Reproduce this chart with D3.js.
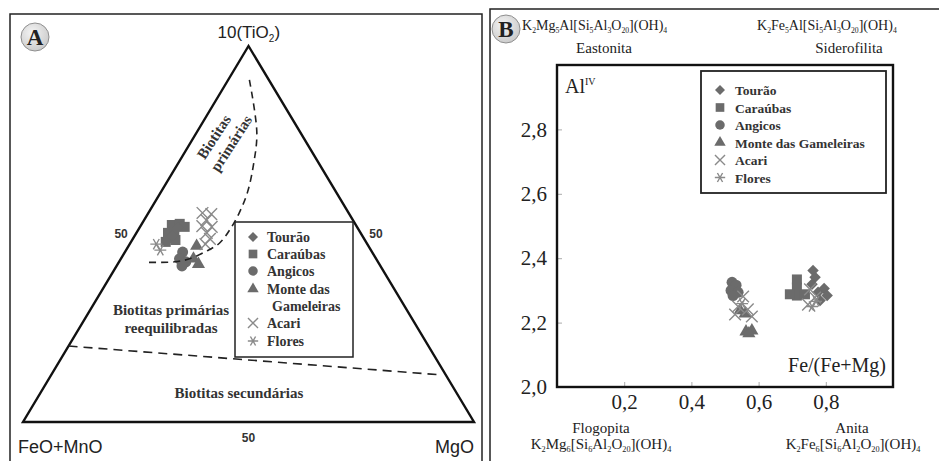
<!DOCTYPE html>
<html>
<head>
<meta charset="utf-8">
<script src="https://cdn.jsdelivr.net/npm/d3@7"></script>
<style>
body { margin: 0; background: #fff; }
svg { display: block; }
</style>
</head>
<body>
<svg id="chart" width="939" height="461"></svg>
<script>
// series names, same order in both panels
const seriesNames = ['Tourão', 'Caraúbas', 'Angicos', 'Monte das Gameleiras', 'Acari', 'Flores'];

// Panel A: ternary compositions [10*TiO2, FeO+MnO, MgO]
const terTourao = [[51.6, 39.9, 8.5], [49.5, 42.2, 8.3]];
const terCaraubas = [[52.4, 40.8, 6.8], [52.7, 38.9, 8.4], [51.9, 38.2, 9.9], [50.3, 42.7, 7.0],
  [50.5, 41.2, 8.3], [48.9, 43.1, 8.0], [48.4, 42.0, 9.6], [47.9, 44.4, 7.7]];
const terAngicos = [[45.2, 42.0, 12.8], [43.4, 43.6, 13.0], [42.6, 42.6, 14.8], [41.5, 44.0, 14.5]];
const terMonte = [[46.8, 38.1, 15.1], [43.4, 40.5, 16.1], [42.0, 40.1, 17.9]];
const terAcari = [[55.6, 32.4, 12.0], [55.3, 30.6, 14.1], [53.7, 32.5, 13.8], [52.1, 34.2, 13.7],
  [51.9, 32.2, 15.9], [50.3, 34.1, 15.6], [48.7, 34.2, 17.1], [47.3, 35.9, 16.8]];
const terFlores = [[47.3, 46.8, 5.9], [45.7, 46.7, 7.6]];

// Panel A field boundaries (ternary compositions)
const primaryBoundary = [[91.0, 4.3, 4.7], [76.9, 9.7, 13.4], [68.4, 14.7, 16.9], [61.2, 19.6, 19.2],
  [55.9, 24.0, 20.1], [51.3, 28.4, 20.3], [47.6, 32.6, 19.8], [45.5, 36.5, 18.0],
  [43.4, 41.4, 15.2], [42.6, 45.1, 12.3], [42.6, 51.6, 6.1]];
const secondaryBoundary = [[20.2, 79.8, 0], [12.5, 0.8, 86.7]];

// Panel B: [Fe/(Fe+Mg), Al IV]
const alTourao = [[0.762, 2.362], [0.768, 2.341], [0.759, 2.319], [0.795, 2.306],
  [0.777, 2.294], [0.804, 2.284], [0.783, 2.269]];
const alCaraubas = [[0.714, 2.334], [0.714, 2.309], [0.714, 2.284], [0.738, 2.288], [0.693, 2.288]];
const alAngicos = [[0.521, 2.325], [0.533, 2.316], [0.518, 2.300], [0.539, 2.294], [0.524, 2.284]];
const alMonte = [[0.545, 2.238], [0.560, 2.228], [0.5625, 2.172], [0.580, 2.175], [0.571, 2.166]];
const alAcari = [[0.554, 2.281], [0.539, 2.250], [0.568, 2.241], [0.530, 2.225], [0.580, 2.219],
  [0.753, 2.303], [0.768, 2.278], [0.747, 2.256]];
const alFlores = [[0.551, 2.259], [0.759, 2.250], [0.771, 2.266]];

const xTicks = [0.2, 0.4, 0.6, 0.8];
const yTicks = [2.0, 2.2, 2.4, 2.6, 2.8];

const svg = d3.select('#chart');
const serif = 'Liberation Serif, Times New Roman, serif';
const sans = 'Liberation Sans, Arial, sans-serif';
const markGray = '#6b6b6b';
const lineGray = '#8a8a8a';

// symbol shapes per series (diamond = square turned 45 degrees)
const shapes = [
  { type: d3.symbolSquare, size: 66, fill: true, rot: 45 },
  { type: d3.symbolSquare, size: 100, fill: true },
  { type: d3.symbolCircle, size: 95, fill: true },
  { type: d3.symbolTriangle, size: 75, fill: true },
  { type: d3.symbolTimes, size: 90, fill: false, rot: 0 },
  { type: d3.symbolAsterisk, size: 100, fill: false, rot: 90 }
];

function drawMarks(g, pts, i, pos, scale) {
  const s = shapes[i];
  const sym = d3.symbol().type(s.type).size(s.size * (scale || 1));
  g.selectAll(null)
    .data(pts)
    .enter().append('path')
    .attr('d', sym)
    .attr('transform', d => {
      const p = pos(d);
      return `translate(${p[0]},${p[1]}) rotate(${s.rot || 0})`;
    })
    .attr('fill', s.fill ? markGray : 'none')
    .attr('stroke', s.fill ? 'none' : lineGray)
    .attr('stroke-width', 1.4);
}

function drawLegend(g, x0, rows, textX) {
  rows.forEach(r => {
    if (r.sym != null) {
      drawMarks(g, [[0, 0]], r.sym, () => [x0, r.y], 0.75);
    }
    g.append('text')
      .attr('x', r.x || textX)
      .attr('y', r.y + 5)
      .attr('font-family', serif)
      .attr('font-weight', 'bold')
      .attr('fill', '#333')
      .attr('font-size', r.fs)
      .text(r.label);
  });
}

// formula with subscripts written as _n
function addFormula(g, str, x, y, anchor, fs) {
  const t = g.append('text')
    .attr('x', x).attr('y', y)
    .attr('text-anchor', anchor)
    .attr('font-family', serif)
    .attr('font-size', fs)
    .attr('fill', '#222');
  let shifted = false;
  str.split(/(_\d+)/).filter(s => s).forEach(s => {
    if (s[0] === '_') {
      t.append('tspan').attr('dy', 3).attr('font-size', fs * 0.55).text(s.slice(1));
      shifted = true;
    } else {
      t.append('tspan').attr('dy', shifted ? -3 : 0).text(s);
      shifted = false;
    }
  });
}

function badge(x, y, letter) {
  const grad = svg.append('defs').append('radialGradient')
    .attr('id', 'g' + letter).attr('cx', '40%').attr('cy', '35%').attr('r', '70%');
  grad.append('stop').attr('offset', '0%').attr('stop-color', '#f4f4f4');
  grad.append('stop').attr('offset', '100%').attr('stop-color', '#c9c9c9');
  svg.append('circle').attr('cx', x).attr('cy', y).attr('r', 14)
    .attr('fill', `url(#g${letter})`).attr('stroke', '#8f8f8f').attr('stroke-width', 1);
  svg.append('text').attr('x', x).attr('y', y + 8)
    .attr('text-anchor', 'middle')
    .attr('font-family', serif).attr('font-weight', 'bold')
    .attr('font-size', 23).attr('fill', '#222')
    .text(letter);
}

// ---------- Panel A: ternary ----------
const panelA = svg.append('g');
panelA.append('rect')
  .attr('x', 10).attr('y', 14).attr('width', 472).attr('height', 470)
  .attr('fill', 'none').attr('stroke', '#222').attr('stroke-width', 1.5);

const tx = d3.scaleLinear().domain([0, 100]).range([23, 474]);
const ty = d3.scaleLinear().domain([0, 100]).range([422, 46]);
function tern(d) {
  const s = d[0] + d[1] + d[2];
  const t = d[0] / s * 100, m = d[2] / s * 100;
  return [tx(m + t / 2), ty(t)];
}

const corners = [[100, 0, 0], [0, 100, 0], [0, 0, 100]];
panelA.append('path')
  .attr('d', d3.line()(corners.map(tern)) + 'Z')
  .attr('fill', 'none').attr('stroke', '#111').attr('stroke-width', 2.4)
  .attr('stroke-linejoin', 'miter');

const terSeries = [terTourao, terCaraubas, terAngicos, terMonte, terAcari, terFlores];
[1, 0, 2, 3, 4, 5].forEach(i => drawMarks(panelA, terSeries[i], i, tern));

panelA.append('path')
  .attr('d', d3.line().curve(d3.curveCatmullRom)(primaryBoundary.map(tern)))
  .attr('fill', 'none').attr('stroke', '#222').attr('stroke-width', 1.6)
  .attr('stroke-dasharray', '7,5');
panelA.append('path')
  .attr('d', d3.line()(secondaryBoundary.map(tern)))
  .attr('fill', 'none').attr('stroke', '#222').attr('stroke-width', 1.6)
  .attr('stroke-dasharray', '9,6');

// apex / corner labels
const apex = tern(corners[0]);
const topLabel = panelA.append('text')
  .attr('x', apex[0] - 31).attr('y', 38)
  .attr('font-family', sans).attr('font-size', 17).attr('fill', '#222');
topLabel.append('tspan').text('10(TiO');
topLabel.append('tspan').attr('dy', 4).attr('font-size', 10).text('2');
topLabel.append('tspan').attr('dy', -4).text(')');

panelA.append('text').attr('x', 18).attr('y', 453)
  .attr('font-family', sans).attr('font-size', 18).attr('fill', '#222').text('FeO+MnO');
panelA.append('text').attr('x', 474).attr('y', 453).attr('text-anchor', 'end')
  .attr('font-family', sans).attr('font-size', 18).attr('fill', '#222').text('MgO');

const midL = tern([50, 50, 0]), midR = tern([50, 0, 50]), midB = tern([0, 50, 50]);
[[midL[0] - 8, midL[1] + 4, 'end'], [midR[0] + 8, midR[1] + 4, 'start'], [midB[0], midB[1] + 20, 'middle']]
  .forEach(p => {
    panelA.append('text').attr('x', p[0]).attr('y', p[1]).attr('text-anchor', p[2])
      .attr('font-family', sans).attr('font-weight', 'bold').attr('font-size', 12)
      .attr('fill', '#333').text('50');
  });

// field labels
const rot = panelA.append('g').attr('transform', 'translate(214,137) rotate(-57)');
rot.append('text').attr('x', 0).attr('y', 5).attr('text-anchor', 'middle')
  .attr('font-family', serif).attr('font-weight', 'bold').attr('font-size', 15)
  .attr('fill', '#333').text('Biotitas');
rot.append('text').attr('x', 4).attr('y', 23).attr('text-anchor', 'middle')
  .attr('font-family', serif).attr('font-weight', 'bold').attr('font-size', 15)
  .attr('fill', '#333').text('primárias');

[['Biotitas primárias', 171, 315], ['reequilibradas', 171, 333], ['Biotitas secundárias', 239, 398]]
  .forEach(l => {
    panelA.append('text').attr('x', l[1]).attr('y', l[2]).attr('text-anchor', 'middle')
      .attr('font-family', serif).attr('font-weight', 'bold').attr('font-size', 15)
      .attr('fill', '#333').text(l[0]);
  });

// legend A
const legA = panelA.append('g');
legA.append('rect').attr('x', 235).attr('y', 222).attr('width', 118).attr('height', 135)
  .attr('fill', '#fff').attr('stroke', '#222').attr('stroke-width', 1.5);
drawLegend(legA, 253, [
  { sym: 0, label: 'Tourão', y: 237, fs: 14 },
  { sym: 1, label: 'Caraúbas', y: 254, fs: 14 },
  { sym: 2, label: 'Angicos', y: 271, fs: 14 },
  { sym: 3, label: 'Monte das', y: 289, fs: 14 },
  { sym: null, label: 'Gameleiras', y: 306, fs: 14, x: 272 },
  { sym: 4, label: 'Acari', y: 323, fs: 14 },
  { sym: 5, label: 'Flores', y: 341, fs: 14 }
], 267);

badge(35, 37, 'A');

// ---------- Panel B: Fe/(Fe+Mg) vs Al IV ----------
const panelB = svg.append('g');
panelB.append('rect')
  .attr('x', 490).attr('y', 9).attr('width', 470).attr('height', 470)
  .attr('fill', 'none').attr('stroke', '#222').attr('stroke-width', 1.5);

const x = d3.scaleLinear().domain([0, 1]).range([557, 893]);
const y = d3.scaleLinear().domain([2, 3]).range([387, 65]);
const fmt = d => d3.format('.1f')(d).replace('.', ',');

const xAxis = panelB.append('g')
  .attr('transform', `translate(0,${y(2)})`)
  .call(d3.axisBottom(x).tickValues(xTicks).tickSizeInner(-5).tickSizeOuter(0)
    .tickPadding(7).tickFormat(fmt));
const yAxis = panelB.append('g')
  .attr('transform', `translate(${x(0)},0)`)
  .call(d3.axisLeft(y).tickValues(yTicks).tickSizeInner(-5).tickSizeOuter(0)
    .tickPadding(10).tickFormat(fmt));
[xAxis, yAxis].forEach(a => {
  a.select('.domain').remove();
  a.selectAll('.tick line').attr('stroke', '#aaa');
  a.selectAll('.tick text').attr('font-family', serif).attr('font-size', 21).attr('fill', '#222');
});

const bSeries = [alTourao, alCaraubas, alAngicos, alMonte, alAcari, alFlores];
const bPos = d => [x(d[0]), y(d[1])];
[1, 0, 2, 3, 4, 5].forEach(i => drawMarks(panelB, bSeries[i], i, bPos));

panelB.append('rect')
  .attr('x', x(0)).attr('y', y(3))
  .attr('width', x(1) - x(0)).attr('height', y(2) - y(3))
  .attr('fill', 'none').attr('stroke', '#111').attr('stroke-width', 2.4);

const alLabel = panelB.append('text').attr('x', 565).attr('y', 93)
  .attr('font-family', serif).attr('font-size', 20).attr('fill', '#222');
alLabel.append('tspan').text('Al');
alLabel.append('tspan').attr('dy', -8).attr('font-size', 10).text('IV');

panelB.append('text').attr('x', 886).attr('y', 372).attr('text-anchor', 'end')
  .attr('font-family', serif).attr('font-size', 20).attr('fill', '#222').text('Fe/(Fe+Mg)');

// legend B
const legB = panelB.append('g');
legB.append('rect').attr('x', 701).attr('y', 71).attr('width', 185).attr('height', 122)
  .attr('fill', '#fff').attr('stroke', '#222').attr('stroke-width', 1.8);
drawLegend(legB, 720, seriesNames.map((n, i) => ({
  sym: i, label: n, y: 90 + i * 17.5, fs: 13.5
})), 735);

// end-member labels
addFormula(panelB, 'K_2Mg_5Al[Si_5Al_3O_20](OH)_4', 522, 30, 'start', 14);
panelB.append('text').attr('x', 604).attr('y', 53).attr('text-anchor', 'middle')
  .attr('font-family', serif).attr('font-size', 15).attr('fill', '#222').text('Eastonita');
addFormula(panelB, 'K_2Fe_5Al[Si_5Al_3O_20](OH)_4', 757, 30, 'start', 14);
panelB.append('text').attr('x', 849).attr('y', 53).attr('text-anchor', 'middle')
  .attr('font-family', serif).attr('font-size', 15).attr('fill', '#222').text('Siderofilita');
panelB.append('text').attr('x', 601).attr('y', 433).attr('text-anchor', 'middle')
  .attr('font-family', serif).attr('font-size', 15).attr('fill', '#222').text('Flogopita');
addFormula(panelB, 'K_2Mg_6[Si_6Al_2O_20](OH)_4', 601, 449, 'middle', 15);
panelB.append('text').attr('x', 852).attr('y', 433).attr('text-anchor', 'middle')
  .attr('font-family', serif).attr('font-size', 15).attr('fill', '#222').text('Anita');
addFormula(panelB, 'K_2Fe_6[Si_6Al_2O_20](OH)_4', 853, 449, 'middle', 15);

badge(506, 29, 'B');
</script>
</body>
</html>
